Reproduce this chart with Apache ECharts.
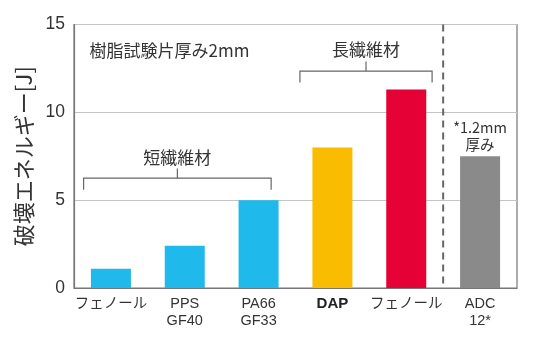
<!DOCTYPE html>
<html>
<head>
<meta charset="utf-8">
<script src="https://cdn.jsdelivr.net/npm/echarts@6/dist/echarts.min.js"></script>
<style>
  html, body { margin: 0; padding: 0; background: #fff; }
  #chart { width: 549px; height: 344px; }
</style>
</head>
<body>
<div id="chart"></div>
<script>
// Impact (fracture) energy by material
var categories = ['フェノール', 'PPS\nGF40', 'PA66\nGF33', 'DAP', 'フェノール', 'ADC\n12*'];
var energy = [1.1, 2.4, 5.0, 8.0, 11.3, 7.5];
var barColors = ['#1fb9ec', '#1fb9ec', '#1fb9ec', '#f9bc00', '#e50036', '#8a8a8a'];
var yTicks = [0, 5, 10, 15];

var FONT = '"Noto Sans CJK JP", "Noto Sans", sans-serif';
var LATIN = '"Liberation Sans", "Noto Sans CJK JP", sans-serif';
var TXT = '#333';

var chart = echarts.init(document.getElementById('chart'));

chart.setOption({
  animation: false,
  textStyle: { fontFamily: FONT },
  grid: {
    left: 74, right: 32, top: 24.5, bottom: 56,
    show: true, borderColor: '#777', borderWidth: 1.2
  },
  xAxis: {
    type: 'category',
    data: categories,
    axisLine: { lineStyle: { color: '#777', width: 1.2 } },
    axisTick: { show: false },
    axisLabel: {
      interval: 0,
      color: TXT, fontSize: 14.5, lineHeight: 17, margin: 7,
      fontFamily: LATIN,
      formatter: function (v) { return v === 'DAP' ? '{b|DAP}' : v; },
      rich: { b: { fontWeight: 'bold', fontSize: 15, color: '#222', fontFamily: LATIN } }
    }
  },
  yAxis: {
    type: 'value',
    min: yTicks[0], max: yTicks[yTicks.length - 1], interval: 5,
    name: '破壊エネルギー[J]',
    nameLocation: 'middle',
    nameGap: 31,
    nameRotate: 90,
    nameTextStyle: { fontSize: 22, color: TXT, fontFamily: FONT },
    axisLine: { show: true, lineStyle: { color: '#777', width: 1.2 } },
    axisTick: { show: false },
    splitLine: { lineStyle: { color: '#c4c4c4', width: 1 } },
    axisLabel: { color: TXT, fontSize: 17.5, margin: 9, fontFamily: LATIN }
  },
  series: [{
    type: 'bar',
    barWidth: 40,
    data: energy.map(function (v, i) {
      return { value: v, itemStyle: { color: barColors[i] } };
    })
  }]
});

// Annotations placed from axis coordinates
function px(cat, val) { return chart.convertToPixel({ gridIndex: 0 }, [cat, val]); }
var bandW = px(1, 0)[0] - px(0, 0)[0];
var bracketStyle = { stroke: '#666', lineWidth: 1.2, fill: null };

function bracket(xl, xr, yLine, yEnd, yTop, label, yLabel) {
  var yl = px(0, yLine)[1], ye = px(0, yEnd)[1], yt = px(0, yTop)[1], ylab = px(0, yLabel)[1];
  var xm = (xl + xr) / 2;
  return [
    { type: 'polyline', shape: { points: [[xl, ye], [xl, yl], [xr, yl], [xr, ye]] }, style: bracketStyle },
    { type: 'line', shape: { x1: xm, y1: yl, x2: xm, y2: yt }, style: bracketStyle },
    { type: 'text', x: xm, y: ylab, style: { text: label, fill: TXT, font: '17px ' + FONT, align: 'center', verticalAlign: 'middle' } }
  ];
}

var x0 = px(0, 0)[0], x2 = px(2, 0)[0], x3 = px(3, 0)[0], x4 = px(4, 0)[0], x5 = px(5, 0)[0];
var sepX = (x4 + x5) / 2;
var topY = px(0, 15)[1], botY = px(0, 0)[1];

var elements = []
  .concat(bracket(x0 - bandW * 0.37, x2 + bandW * 0.17, 6.25, 5.6, 6.8, '短繊維材', 7.4))
  .concat(bracket(x3 - bandW * 0.44, x4 + bandW * 0.35, 12.35, 11.7, 12.9, '長繊維材', 13.55))
  .concat([
    { type: 'line', shape: { x1: sepX, y1: topY, x2: sepX, y2: botY },
      style: { stroke: '#666', lineWidth: 2, lineDash: [7, 5] } },
    { type: 'text', x: x0 - bandW * 0.29, y: px(0, 13.5)[1],
      style: { text: '樹脂試験片厚み2mm', fill: TXT, font: '17px ' + FONT, align: 'left', verticalAlign: 'middle' } },
    { type: 'text', x: x5, y: px(0, 8.65)[1],
      style: { text: '*1.2mm\n厚み', fill: TXT, font: '14.5px ' + FONT, lineHeight: 17, align: 'center', verticalAlign: 'middle' } }
  ]);

chart.setOption({ graphic: { elements: elements } });
</script>
</body>
</html>
